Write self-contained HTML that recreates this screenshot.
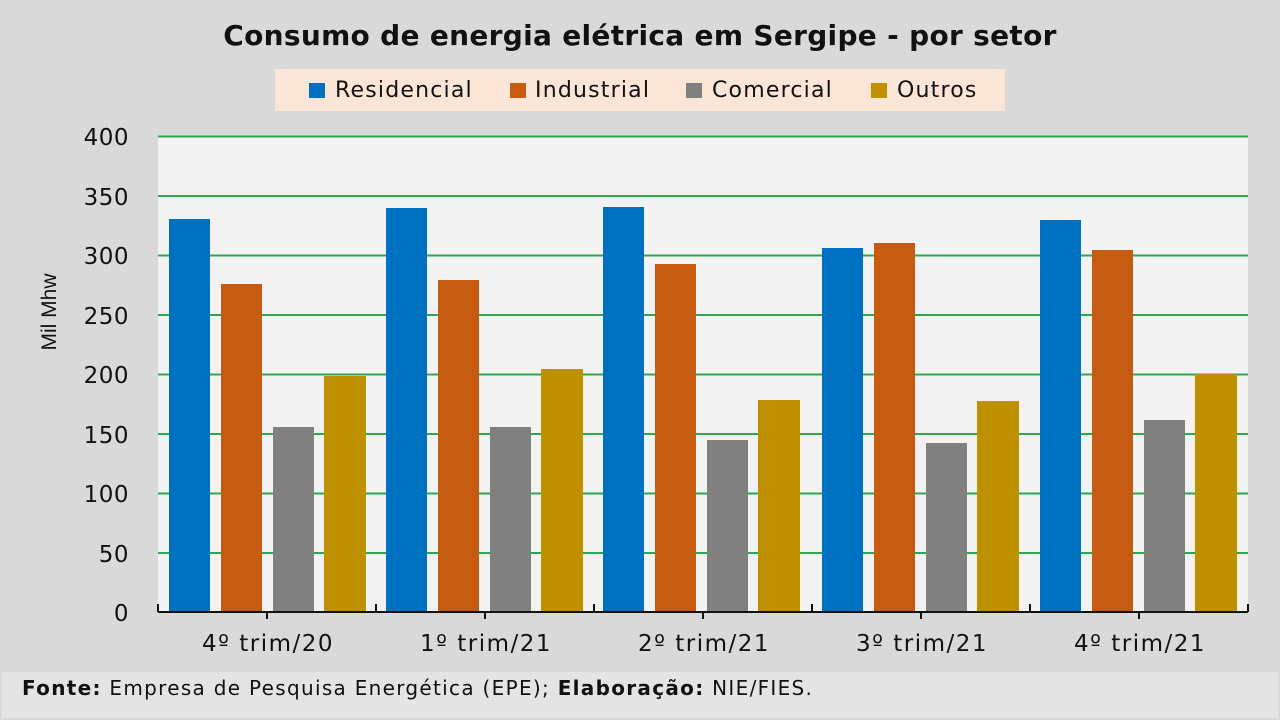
<!DOCTYPE html>
<html><head><meta charset="utf-8"><style>
html,body{margin:0;padding:0;background:#d9d9d9;}
svg{display:block;font-family:"Liberation Sans","DejaVu Sans",sans-serif;}
</style></head><body>
<svg width="1280" height="720" viewBox="0 0 1280 720">
<rect width="1280" height="720" fill="#d9d9d9"/>
<rect x="2" y="672" width="1276" height="46" fill="#e4e4e4"/>
<text x="640" y="45" font-size="28" font-weight="bold" text-anchor="middle" fill="#111" letter-spacing="0.3" font-family="DejaVu Sans, sans-serif">Consumo de energia elétrica em Sergipe - por setor</text>
<rect x="275" y="69" width="730" height="42" fill="#fbe5d6"/>
<g font-size="22" fill="#111" font-family="DejaVu Sans, sans-serif" letter-spacing="1.2">
<rect x="309" y="83" width="16" height="15" fill="#0070c0"/><text x="335" y="97">Residencial</text>
<rect x="510" y="83" width="16" height="15" fill="#c55a11"/><text x="535" y="97">Industrial</text>
<rect x="686" y="83" width="16" height="15" fill="#808080"/><text x="712" y="97">Comercial</text>
<rect x="871" y="83" width="16" height="15" fill="#bf9000"/><text x="897" y="97">Outros</text>
</g>
<rect x="158" y="136" width="1090" height="476" fill="#f2f2f2"/>
<g stroke="#2ea84f" stroke-width="2">
<line x1="158" x2="1248" y1="136.5" y2="136.5"/><line x1="158" x2="1248" y1="196" y2="196"/>
<line x1="158" x2="1248" y1="255.5" y2="255.5"/><line x1="158" x2="1248" y1="315" y2="315"/>
<line x1="158" x2="1248" y1="374.5" y2="374.5"/><line x1="158" x2="1248" y1="434" y2="434"/>
<line x1="158" x2="1248" y1="493.5" y2="493.5"/><line x1="158" x2="1248" y1="553" y2="553"/>
</g>
<g font-size="23" fill="#111" text-anchor="end" font-family="DejaVu Sans, sans-serif" letter-spacing="0.5">
<text x="129" y="145">400</text><text x="129" y="205">350</text><text x="129" y="264">300</text>
<text x="129" y="324">250</text><text x="129" y="383">200</text><text x="129" y="443">150</text>
<text x="129" y="502">100</text><text x="129" y="562">50</text><text x="129" y="621">0</text>
</g>
<text transform="translate(56,312) rotate(-90)" font-size="21" text-anchor="middle" fill="#111">Mil Mhw</text>
<g>
<rect x="169" y="219" width="41" height="393" fill="#0070c0"/><rect x="221" y="284" width="41" height="328" fill="#c55a11"/><rect x="273" y="427" width="41" height="185" fill="#808080"/><rect x="324" y="376" width="42" height="236" fill="#bf9000"/>
<rect x="386" y="208" width="41" height="404" fill="#0070c0"/><rect x="438" y="280" width="41" height="332" fill="#c55a11"/><rect x="490" y="427" width="41" height="185" fill="#808080"/><rect x="541" y="369" width="42" height="243" fill="#bf9000"/>
<rect x="603" y="207" width="41" height="405" fill="#0070c0"/><rect x="655" y="264" width="41" height="348" fill="#c55a11"/><rect x="707" y="440" width="41" height="172" fill="#808080"/><rect x="758" y="400" width="42" height="212" fill="#bf9000"/>
<rect x="822" y="248" width="41" height="364" fill="#0070c0"/><rect x="874" y="243" width="41" height="369" fill="#c55a11"/><rect x="926" y="443" width="41" height="169" fill="#808080"/><rect x="977" y="401" width="42" height="211" fill="#bf9000"/>
<rect x="1040" y="220" width="41" height="392" fill="#0070c0"/><rect x="1092" y="250" width="41" height="362" fill="#c55a11"/><rect x="1144" y="420" width="41" height="192" fill="#808080"/><rect x="1195" y="374" width="42" height="238" fill="#bf9000"/>
</g>
<g stroke="#111" stroke-width="2">
<line x1="158" x2="1248" y1="612" y2="612"/>
<line x1="158" x2="158" y1="604" y2="612"/><line x1="1248" x2="1248" y1="604" y2="612"/>
<line x1="267" x2="267" y1="612" y2="619"/><line x1="376" x2="376" y1="604" y2="612"/>
<line x1="485" x2="485" y1="612" y2="619"/><line x1="594" x2="594" y1="604" y2="612"/>
<line x1="703" x2="703" y1="612" y2="619"/><line x1="812" x2="812" y1="604" y2="612"/>
<line x1="921" x2="921" y1="612" y2="619"/><line x1="1030" x2="1030" y1="604" y2="612"/>
<line x1="1139" x2="1139" y1="612" y2="619"/>
</g>
<g font-size="23" fill="#111" text-anchor="middle" font-family="DejaVu Sans, sans-serif" letter-spacing="1.5">
<text x="268" y="651">4º trim/20</text><text x="486" y="651">1º trim/21</text><text x="704" y="651">2º trim/21</text>
<text x="922" y="651">3º trim/21</text><text x="1140" y="651">4º trim/21</text>
</g>
<text x="22" y="695" font-size="20" fill="#111" font-family="DejaVu Sans, sans-serif" letter-spacing="1.3"><tspan font-weight="bold">Fonte:</tspan> Empresa de Pesquisa Energética (EPE); <tspan font-weight="bold">Elaboração:</tspan>  NIE/FIES.</text>
</svg>
</body></html>
